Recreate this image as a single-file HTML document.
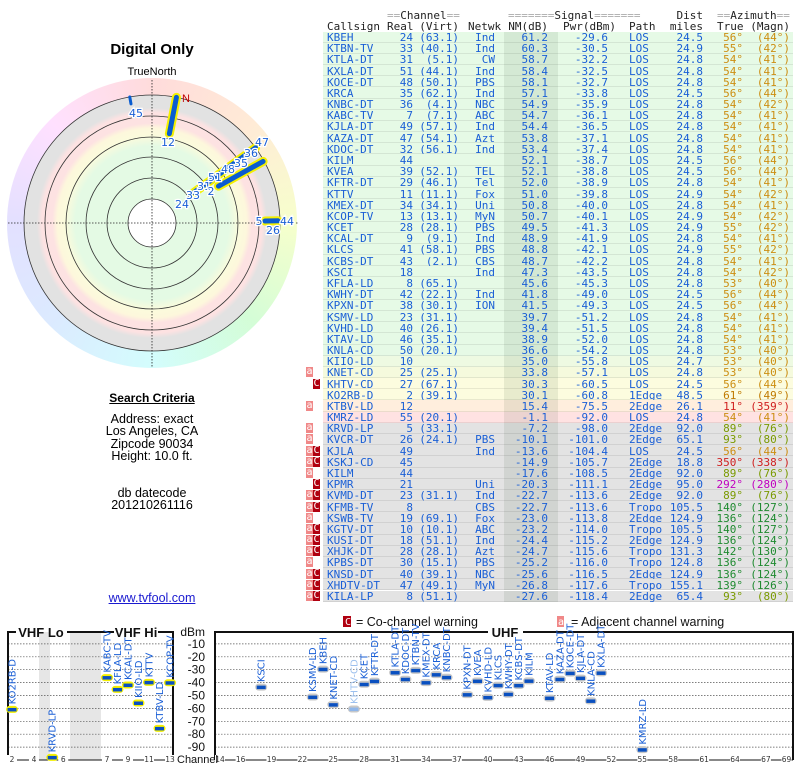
<!DOCTYPE html>
<html><head><meta charset="utf-8">
<style>
html,body{margin:0;padding:0;background:#fff;}
body{width:800px;height:768px;position:relative;overflow:hidden;font-family:"Liberation Sans",sans-serif;}
.abs{position:absolute;}
.mono{font-family:"DejaVu Sans Mono","Liberation Mono",monospace;font-size:11px;line-height:11px;white-space:pre;}
#polar-bg{position:absolute;left:7px;top:78px;width:290px;height:290px;border-radius:50%;
background:conic-gradient(from 0deg,hsl(0,100%,93%),hsl(30,100%,92%) 45deg,hsl(70,100%,90%) 90deg,hsl(125,90%,91%) 135deg,hsl(180,90%,91%) 180deg,hsl(215,100%,93%) 225deg,hsl(245,100%,94%) 270deg,hsl(300,100%,94%) 315deg,hsl(360,100%,93%));}
</style></head><body>
<div class="abs" style="left:0;width:304px;top:41px;text-align:center;font-weight:bold;font-size:15px;">Digital Only</div>
<div class="abs" style="left:0;width:304px;top:66px;text-align:center;font-size:11px;">TrueNorth</div>
<div id="polar-bg"></div>
<svg id="polar" class="abs" style="left:0;top:60px" width="304" height="320"></svg>

<div class="abs" style="left:0;width:304px;top:391px;text-align:center;font-weight:bold;font-size:12px;text-decoration:underline;">Search Criteria</div>
<div class="abs" style="left:0;width:304px;top:413px;text-align:center;font-size:12.5px;line-height:12.3px;">Address: exact<br>Los Angeles, CA<br>Zipcode 90034<br>Height: 10.0 ft.</div>
<div class="abs" style="left:0;width:304px;top:487px;text-align:center;font-size:12.5px;line-height:12.3px;">db datecode<br>201210261116</div>
<a class="abs" href="#" style="left:0;width:304px;top:591px;text-align:center;font-size:12.5px;color:#1a1ad0;text-decoration:underline;">www.tvfool.com</a>

<div id="table" class="abs" style="left:0;top:0;width:800px;height:610px"></div>

<svg id="spectrum" class="abs" style="left:0;top:610px" width="800" height="158"></svg>

<script>
// ---------- table data ----------
const callsigns=["KBEH","KTBN-TV","KTLA-DT","KXLA-DT","KOCE-DT","KRCA","KNBC-DT","KABC-TV","KJLA-DT","KAZA-DT","KDOC-DT","KILM","KVEA","KFTR-DT","KTTV","KMEX-DT","KCOP-TV","KCET","KCAL-DT","KLCS","KCBS-DT","KSCI","KFLA-LD","KWHY-DT","KPXN-DT","KSMV-LD","KVHD-LD","KTAV-LD","KNLA-CD","KIIO-LD","KNET-CD","KHTV-CD","KO2RB-D","KTBV-LD","KMRZ-LD","KRVD-LP","KVCR-DT","KJLA","KSKJ-CD","KILM","KPMR","KVMD-DT","KFMB-TV","KSWB-TV","KGTV-DT","KUSI-DT","XHJK-DT","KPBS-DT","KNSD-DT","XHDTV-DT","KILA-LP"];
const realCh=[24,33,31,51,48,35,36,7,49,47,32,44,39,29,11,34,13,28,9,41,43,18,8,42,38,23,40,46,50,10,25,27,2,12,55,5,26,49,45,44,21,23,8,19,10,18,28,30,40,47,8];
const virtCh=["63.1","40.1","5.1","44.1","50.1","62.1","4.1","7.1","57.1","54.1","56.1","","52.1","46.1","11.1","34.1","13.1","28.1","9.1","58.1","2.1","","65.1","22.1","30.1","31.1","26.1","35.1","20.1","","25.1","67.1","39.1","","20.1","33.1","24.1","","","","","31.1","","69.1","10.1","51.1","28.1","15.1","39.1","49.1","51.1"];
const networks=["Ind","Ind","CW","Ind","PBS","Ind","NBC","ABC","Ind","Azt","Ind","","TEL","Tel","Fox","Uni","MyN","PBS","Ind","PBS","CBS","Ind","","Ind","ION","","","","","","","","","","","","PBS","Ind","","","Uni","Ind","CBS","Fox","ABC","Ind","Azt","PBS","NBC","MyN",""];
const nmDb=[61.2,60.3,58.7,58.4,58.1,57.1,54.9,54.7,54.4,53.8,53.4,52.1,52.1,52.0,51.0,50.8,50.7,49.5,48.9,48.8,48.7,47.3,45.6,41.8,41.5,39.7,39.4,38.9,36.6,35.0,33.8,30.3,30.1,15.4,-1.1,-7.2,-10.1,-13.6,-14.9,-17.6,-20.3,-22.7,-22.7,-23.0,-23.2,-24.4,-24.7,-25.2,-25.6,-26.8,-27.6];
const pwrDbm=[-29.6,-30.5,-32.2,-32.5,-32.7,-33.8,-35.9,-36.1,-36.5,-37.1,-37.4,-38.7,-38.8,-38.9,-39.8,-40.0,-40.1,-41.3,-41.9,-42.1,-42.2,-43.5,-45.3,-49.0,-49.3,-51.2,-51.5,-52.0,-54.2,-55.8,-57.1,-60.5,-60.8,-75.5,-92.0,-98.0,-101.0,-104.4,-105.7,-108.5,-111.1,-113.6,-113.6,-113.8,-114.0,-115.2,-115.6,-116.0,-116.5,-117.6,-118.4];
const paths=["LOS","LOS","LOS","LOS","LOS","LOS","LOS","LOS","LOS","LOS","LOS","LOS","LOS","LOS","LOS","LOS","LOS","LOS","LOS","LOS","LOS","LOS","LOS","LOS","LOS","LOS","LOS","LOS","LOS","LOS","LOS","LOS","1Edge","2Edge","LOS","2Edge","2Edge","LOS","2Edge","2Edge","2Edge","2Edge","Tropo","2Edge","Tropo","2Edge","Tropo","Tropo","2Edge","Tropo","2Edge"];
const distMiles=["24.5","24.9","24.8","24.8","24.8","24.5","24.8","24.8","24.8","24.8","24.8","24.5","24.5","24.8","24.9","24.8","24.9","24.9","24.8","24.9","24.8","24.8","24.8","24.5","24.5","24.8","24.8","24.8","24.8","24.7","24.8","24.5","48.5","26.1","24.8","92.0","65.1","24.5","18.8","92.0","95.0","92.0","105.5","124.9","105.5","124.9","131.3","124.8","124.9","155.1","65.4"];
const azTrue=[56,55,54,54,54,56,54,54,54,54,54,56,56,54,54,54,54,55,54,55,54,54,53,56,56,54,54,54,53,53,53,56,61,11,54,89,93,56,350,89,292,89,140,136,140,136,142,136,136,139,93];
const azMagn=[44,42,41,41,41,44,42,41,41,41,41,44,44,41,42,41,42,42,41,42,41,42,40,44,44,41,41,41,40,40,40,44,49,359,41,76,80,44,338,76,280,76,127,124,127,124,130,124,124,126,80];
const warnings=["","","","","","","","","","","","","","","","","","","","","","","","","","","","","","","a","C","","a","","a","a","aC","aC","a","C","aC","aC","a","aC","aC","aC","a","aC","aC","aC"];

const T=document.getElementById('table');
function mk(parent,txt,left,top,opts){
  const d=document.createElement('div');
  d.className='abs mono';
  d.textContent=txt;
  d.style.top=top+'px';
  if(opts&&opts.right!==undefined){d.style.right=(800-opts.right)+'px';}else{d.style.left=left+'px';}
  if(opts&&opts.color)d.style.color=opts.color;
  parent.appendChild(d);
  return d;
}
const hc='#222';
function hdr(txt,l,t,name,right){const h=mk(T,txt,l,t,right!==undefined?{right:right,color:hc}:{color:hc});


return h;}
let h1=hdr('',387,10,'header-channel');h1.innerHTML='<span style="color:#aaa">==</span>Channel<span style="color:#aaa">==</span>';
let h2=hdr('',508,10,'header-signal');h2.innerHTML='<span style="color:#aaa">=======</span>Signal<span style="color:#aaa">=======</span>';
hdr('Dist',0,10,'header-dist',703);
let h3=hdr('',717,10,'header-azimuth');h3.innerHTML='<span style="color:#aaa">==</span>Azimuth<span style="color:#aaa">==</span>';
hdr('Callsign',327,21,'header-callsign');
hdr('Real',387,21,'header-real');
hdr('(Virt)',0,21,'header-virt',459);
hdr('Netwk',468,21,'header-netwk');
hdr('NM(dB)',0,21,'header-nm',548);
hdr('Pwr(dBm)',563,21,'header-pwr');
hdr('Path',629,21,'header-path');
hdr('miles',0,21,'header-miles',703);
hdr('True',717,21,'header-true');
hdr('(Magn)',0,21,'header-magn',790);

const RH=11.18, top0=31.5;
const blue='#1a5fd6';
function rowBg(i){
  if(i<=28)return '#e6fae6';
  if(i==29)return '#eefae2';
  if(i==30)return '#f5fadd';
  if(i<=32)return '#fcfcdf';
  if(i==33)return '#ffeedd';
  if(i==34)return '#ffe2e2';
  return '#e3e3e3';
}
function azColor(a){
  if(a>=50&&a<=60)return '#cc8e12';
  if(a==61)return '#c07a00';
  if(a==11||a==350)return '#d02020';
  if(a==292)return '#c000c0';
  if(a>=85&&a<=95)return '#7a9a00';
  if(a>=130&&a<=145)return '#1f8a30';
  return '#cc8e12';
}
for(let i=0;i<callsigns.length;i++){
  const y=top0+i*RH;
  const r=document.createElement('div');
  r.className='abs';
  
  
  r.style.cssText=`left:323px;top:${y}px;width:470px;height:${RH}px;background:${rowBg(i)};box-shadow:inset 0 -1px 0 rgba(0,0,0,0.08);`;
  T.appendChild(r);
  const sh=document.createElement('div');
  sh.className='abs';
  
  
  sh.style.cssText=`left:181px;top:0;width:54px;height:${RH}px;background:rgba(0,40,0,0.08);`;
  r.appendChild(sh);
  const ty=y+0.5;
  const c=[];
  c.push(mk(T,callsigns[i],327,ty,{color:blue}));
  c.push(mk(T,String(realCh[i]),0,ty,{right:413,color:blue}));
  if(virtCh[i])c.push(mk(T,'('+virtCh[i]+')',0,ty,{right:459,color:blue}));
  if(networks[i])c.push(mk(T,networks[i],0,ty,{right:495,color:blue}));
  c.push(mk(T,nmDb[i].toFixed(1),0,ty,{right:548,color:blue}));
  c.push(mk(T,pwrDbm[i].toFixed(1),0,ty,{right:608,color:blue}));
  c.push(mk(T,paths[i],629,ty,{color:blue}));
  c.push(mk(T,distMiles[i],0,ty,{right:703,color:blue}));
  c.push(mk(T,azTrue[i]+'°',0,ty,{right:743,color:azColor(azTrue[i])}));
  c.push(mk(T,'('+azMagn[i]+'°)',0,ty,{right:790,color:azColor(azTrue[i])}));
  c.forEach(e=>{
    
    
  });
  const w=warnings[i];
  if(w.includes('a')){
    const b=document.createElement('div');
    b.className='abs mono';
    b.textContent='a';
    
    
    b.style.cssText=`left:306px;top:${y+0.5}px;width:7px;height:10px;background:#f08888;color:#fff;font-size:10px;line-height:10px;text-align:center;overflow:hidden;`;
    T.appendChild(b);
  }
  if(w.includes('C')){
    const b=document.createElement('div');
    b.className='abs mono';
    b.textContent='C';
    
    
    b.style.cssText=`left:313px;top:${y+0.5}px;width:7px;height:10px;background:#b00010;color:#fff;font-size:10px;line-height:10px;text-align:center;overflow:hidden;`;
    T.appendChild(b);
  }
}

// ---------- polar ----------
const NS='http://www.w3.org/2000/svg';
const P=document.getElementById('polar');
const cx=152,cy=163;
const ringRadii=[24,45,66,86,107,128];
const polarAz=[11,61,54,89,350];
const polarR0=[91,76,52,113,121];
const polarR1=[128,127,128,126,128];
const polarHalo=[true,true,true,true,false];
function el(tag,attrs,parent){const e=document.createElementNS(NS,tag);for(const k in attrs)e.setAttribute(k,attrs[k]);parent.appendChild(e);return e;}
const defs=el('defs',{},P);
const rg=el('radialGradient',{id:'bands',cx:'0.5',cy:'0.5',r:'0.5'},defs);
[[0,'#e4fae4'],[0.6,'#e4fae4'],[0.68,'#fbfbdc'],[0.74,'#fdf7dc'],[0.78,'#fde2e2'],[0.86,'#fde2e2'],[0.9,'#e2e2e2'],[1,'#e2e2e2']].forEach(s=>{el('stop',{offset:s[0],'stop-color':s[1]},rg);});
let bandC=el('circle',{cx:cx,cy:cy,r:128,fill:'url(#bands)'},P);


let wc=el('circle',{cx:cx,cy:cy,r:24,fill:'#fff'},P);


ringRadii.forEach(r=>{const c=el('circle',{cx:cx,cy:cy,r:r,fill:'none',stroke:'#333','stroke-width':0.8},P);

});
let hx=el('line',{x1:8,y1:cy,x2:298,y2:cy,stroke:'#222','stroke-width':0.8,'stroke-dasharray':'1.5,1.5'},P);


let vx=el('line',{x1:cx,y1:20,x2:cx,y2:307,stroke:'#222','stroke-width':0.8,'stroke-dasharray':'1.5,1.5'},P);


function pt(az,r){const a=az*Math.PI/180;return [cx+r*Math.sin(a),cy-r*Math.cos(a)];}
for(let i=0;i<polarAz.length;i++){
  const a=pt(polarAz[i],polarR0[i]),b=pt(polarAz[i],polarR1[i]);
  if(polarHalo[i]){const h=el('line',{x1:a[0],y1:a[1],x2:b[0],y2:b[1],stroke:'#f4f000','stroke-width':9,'stroke-linecap':'round'},P);
  
  }
  const l=el('line',{x1:a[0],y1:a[1],x2:b[0],y2:b[1],stroke:'#0a5cd0','stroke-width':polarHalo[i]?5:3,'stroke-linecap':'round'},P);
  
  
}
const plabels=[["45",136,57],["12",168,86],["24",182,148],["33",193,139],["31",204,130],["2",211,135],["51",215,121],["48",228,113],["35",241,107],["36",251,97],["47",262,86],["5",259,165],["44",287,165],["26",273,174]];
plabels.forEach(p=>{const t=el('text',{x:p[1],y:p[2],'text-anchor':'middle','font-size':11,fill:'#1a5fd6','font-family':'DejaVu Sans, sans-serif',stroke:'#fff','stroke-width':2.5,'paint-order':'stroke'},P);t.textContent=p[0];

});
let nl=el('text',{x:182,y:42,'font-size':11,fill:'#c00000','font-family':'Liberation Sans, sans-serif'},P);nl.textContent='N';



// ---------- spectrum chart ----------
const S=document.getElementById('spectrum');
const dbTicks=[-10,-20,-30,-40,-50,-60,-70,-80,-90];
const vhfNames=["KO2RB-D","KRVD-LP","KABC-TV","KFLA-LD","KCAL-DT","KIIO-LD","KTTV","KTBV-LD","KCOP-TV"];
const vhfCh=[2,5,7,8,9,10,11,12,13];
const vhfPwr=[-60.8,-98.0,-36.1,-45.3,-41.9,-55.8,-39.8,-75.5,-40.1];
const uhfNames=["KSCI","KSMV-LD","KBEH","KNET-CD","KHTV-CD","KCET","KFTR-DT","KTLA-DT","KDOC-DT","KTBN-TV","KMEX-DT","KRCA","KNBC-DT","KPXN-DT","KVEA","KVHD-LD","KLCS","KWHY-DT","KCBS-DT","KILM","KTAV-LD","KAZA-DT","KOCE-DT","KJLA-DT","KNLA-CD","KXLA-DT","KMRZ-LD"];
const uhfCh=[18,23,24,25,27,28,29,31,32,33,34,35,36,38,39,40,41,42,43,44,46,47,48,49,50,51,55];
const uhfPwr=[-43.5,-51.2,-29.6,-57.1,-60.5,-41.3,-38.9,-32.2,-37.4,-30.5,-40.0,-33.8,-35.9,-49.3,-38.8,-51.5,-42.1,-49.0,-42.2,-38.7,-52.0,-37.4,-32.7,-36.5,-54.2,-32.5,-92.0];
const vhfTickCh=[2,4,6,7,9,11,13];
const uhfTickCh=[14,16,19,22,25,28,31,34,37,40,43,46,49,52,55,58,61,64,67,69];
const Y0=21;
function yScale(d){return Y0+(-d)*1.29;}
const loFreq={2:57,3:63,4:69,5:79,6:85};
function xVhf(ch){return ch<=6?12+(loFreq[ch]-57)*1.83:107+(ch-7)*10.5;}
function xUhf(ch){return 220+(ch-14)*10.3;}
const ax={font:'Liberation Sans, sans-serif'};
let g1=el('rect',{x:39,y:22,width:11,height:128,fill:'#e6e6e6'},S);
let g2=el('rect',{x:70,y:22,width:31,height:128,fill:'#e6e6e6'},S);
dbTicks.forEach(d=>{
  const y=yScale(d);
  [[8,173],[215,792]].forEach(s=>{const l=el('line',{x1:s[0],y1:y,x2:s[1],y2:y,stroke:'#555','stroke-width':0.7,'stroke-dasharray':'1.5,1.5'},S);
  
  });
  const t=el('text',{x:205,y:y+4,'text-anchor':'end','font-size':12,fill:'#111','font-family':ax.font},S);t.textContent=d;
  
  
});
let dbl=el('text',{x:205,y:26,'text-anchor':'end','font-size':12,fill:'#111','font-family':ax.font},S);dbl.textContent='dBm';

function frame(x1,x2,gaps,name){
  const g=el('g',{},S);
  
  
  el('line',{x1:x1,y1:21,x2:x1,y2:150,stroke:'#111','stroke-width':2},g);
  el('line',{x1:x2,y1:21,x2:x2,y2:150,stroke:'#111','stroke-width':2},g);
  let cur=x1;gaps.forEach(gp=>{el('line',{x1:cur,y1:22,x2:gp[0],y2:22,stroke:'#111','stroke-width':2},g);cur=gp[1];});
  el('line',{x1:cur,y1:22,x2:x2,y2:22,stroke:'#111','stroke-width':2},g);
  el('line',{x1:x1,y1:150,x2:x2,y2:150,stroke:'#111','stroke-width':1},g);
}
frame(8,173,[[16,67],[114,158]],'vhf-panel-frame');
frame(215,793,[[488,523]],'uhf-panel-frame');
[["VHF Lo",41],["VHF Hi",136],["UHF",505]].forEach(t=>{const e=el('text',{x:t[1],y:27,'text-anchor':'middle','font-size':13,'font-weight':'bold',fill:'#111','font-family':ax.font},S);e.textContent=t[0];
});
let lb1=el('rect',{x:343,y:6,width:8,height:11,fill:'#b00010'},S);
let lt1=el('text',{x:345,y:15,'font-size':10,fill:'#fff','font-family':'DejaVu Sans Mono, monospace'},S);lt1.textContent='C';
let lt2=el('text',{x:356,y:16,'font-size':12.5,fill:'#111','font-family':ax.font},S);lt2.textContent='= Co-channel warning';
let lb2=el('rect',{x:557,y:6,width:7,height:11,fill:'#f08888'},S);
let lt3=el('text',{x:558,y:15,'font-size':10,fill:'#fff','font-family':'DejaVu Sans Mono, monospace'},S);lt3.textContent='a';
let lt4=el('text',{x:571,y:16,'font-size':12.5,fill:'#111','font-family':ax.font},S);lt4.textContent='= Adjacent channel warning';
function tick(x,lbl){const r=el('rect',{x:x-5,y:145,width:10,height:10,fill:'#fff'},S);

const t=el('text',{x:x,y:152,'text-anchor':'middle','font-size':7.5,fill:'#333','font-family':'DejaVu Sans, sans-serif'},S);t.textContent=lbl;
}
vhfTickCh.forEach(c=>tick(xVhf(c),c));
uhfTickCh.forEach(c=>tick(xUhf(c),c));
let chl=el('text',{x:177,y:153,'font-size':11,fill:'#111','font-family':ax.font},S);chl.textContent='Channel';

function marker(x,d,name,halo,faded){
  const y=yScale(d);
  const h=el('rect',{x:x-6,y:y-3.5,width:12,height:7,rx:3.5,fill:halo?'#f4f000':'#c8c8c8'},S);
  
  const m=el('rect',{x:x-4.5,y:y-1.5,width:9,height:3.5,fill:faded?'#8fb6ea':'#0a50c0'},S);
  
  const t=el('text',{x:x+3.5,y:y-5,transform:`rotate(-90 ${x+3.5} ${y-5})`,'font-size':10,fill:faded?'#9cc0ee':'#1a5fd6','font-family':'DejaVu Sans, sans-serif'},S);
  t.textContent=name;
  
}
for(let i=0;i<vhfNames.length;i++)marker(xVhf(vhfCh[i]),vhfPwr[i],vhfNames[i],true,false);
for(let i=0;i<uhfNames.length;i++)marker(xUhf(uhfCh[i]),uhfPwr[i],uhfNames[i],false,uhfNames[i]==='KHTV-CD');
</script>
</body></html>
